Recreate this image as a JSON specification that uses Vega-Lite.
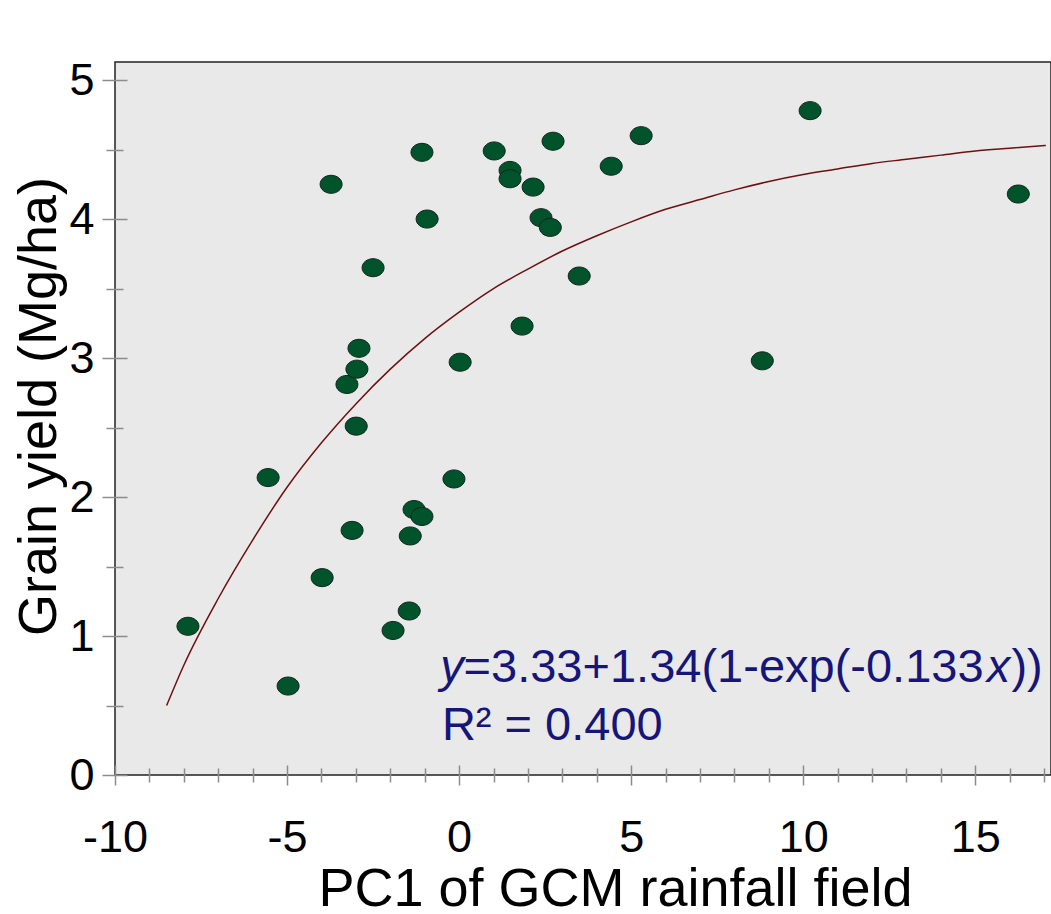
{
  "$schema": "https://vega.github.io/schema/vega-lite/v6.json",
  "width": 936,
  "height": 713,
  "autosize": {"type": "none"},
  "padding": {"left": 115, "top": 62, "right": 0, "bottom": 139},
  "background": "white",
  "config": {
    "view": {"fill": "#e9e9e9", "stroke": "#222222", "strokeWidth": 1.5},
    "font": "Liberation Sans"
  },
  "datasets": {
    "points": [
      {"pc1": -7.88, "yield": 1.07},
      {"pc1": -4.97, "yield": 0.64},
      {"pc1": -5.55, "yield": 2.14},
      {"pc1": -3.98, "yield": 1.42},
      {"pc1": -3.72, "yield": 4.25},
      {"pc1": -3.26, "yield": 2.81},
      {"pc1": -3.11, "yield": 1.76},
      {"pc1": -2.99, "yield": 2.51},
      {"pc1": -2.97, "yield": 2.92},
      {"pc1": -2.91, "yield": 3.07},
      {"pc1": -2.50, "yield": 3.65},
      {"pc1": -1.92, "yield": 1.04},
      {"pc1": -1.45, "yield": 1.18},
      {"pc1": -1.42, "yield": 1.72},
      {"pc1": -1.31, "yield": 1.91},
      {"pc1": -1.08, "yield": 1.86},
      {"pc1": -1.08, "yield": 4.48},
      {"pc1": -0.93, "yield": 4.00},
      {"pc1": -0.15, "yield": 2.13},
      {"pc1": 0.03, "yield": 2.97},
      {"pc1": 1.02, "yield": 4.49},
      {"pc1": 1.48, "yield": 4.35},
      {"pc1": 1.48, "yield": 4.29},
      {"pc1": 1.83, "yield": 3.23},
      {"pc1": 2.15, "yield": 4.23},
      {"pc1": 2.38, "yield": 4.01},
      {"pc1": 2.65, "yield": 3.94},
      {"pc1": 2.73, "yield": 4.56},
      {"pc1": 3.49, "yield": 3.59},
      {"pc1": 4.42, "yield": 4.38},
      {"pc1": 5.29, "yield": 4.60},
      {"pc1": 8.81, "yield": 2.98},
      {"pc1": 10.20, "yield": 4.78},
      {"pc1": 16.25, "yield": 4.18}
    ],
    "fit": [
      {"pc1": -8.5, "yfit": 0.50},
      {"pc1": -8, "yfit": 0.79},
      {"pc1": -7, "yfit": 1.27},
      {"pc1": -6, "yfit": 1.69},
      {"pc1": -5, "yfit": 2.07},
      {"pc1": -4, "yfit": 2.39},
      {"pc1": -3, "yfit": 2.67},
      {"pc1": -2, "yfit": 2.92},
      {"pc1": -1, "yfit": 3.14},
      {"pc1": 0, "yfit": 3.33},
      {"pc1": 1, "yfit": 3.50},
      {"pc1": 2, "yfit": 3.64},
      {"pc1": 3, "yfit": 3.77},
      {"pc1": 4, "yfit": 3.88},
      {"pc1": 5, "yfit": 3.98},
      {"pc1": 6, "yfit": 4.07},
      {"pc1": 7, "yfit": 4.14},
      {"pc1": 8, "yfit": 4.21},
      {"pc1": 9, "yfit": 4.27},
      {"pc1": 10, "yfit": 4.32},
      {"pc1": 11, "yfit": 4.36},
      {"pc1": 12, "yfit": 4.40},
      {"pc1": 13, "yfit": 4.43},
      {"pc1": 14, "yfit": 4.46},
      {"pc1": 15, "yfit": 4.49},
      {"pc1": 16, "yfit": 4.51},
      {"pc1": 17.05, "yfit": 4.53}
    ]
  },
  "resolve": {"axis": {"x": "independent", "y": "independent"}},
  "layer": [
    {
      "data": {"name": "fit"},
      "mark": {"type": "line", "color": "#6e1010", "strokeWidth": 1.5, "interpolate": "monotone"},
      "encoding": {
        "x": {
          "field": "pc1", "type": "quantitative",
          "scale": {"domain": [-10, 17.2], "nice": false, "zero": false},
          "axis": {
            "orient": "bottom",
            "values": [-9, -8, -7, -6, -4, -3, -2, -1, 1, 2, 3, 4, 6, 7, 8, 9, 11, 12, 13, 14, 16, 17],
            "offset": -7, "tickSize": 14, "tickColor": "#8c8c8c", "tickWidth": 1.5,
            "labels": false, "domain": false, "grid": false, "title": null
          }
        },
        "y": {
          "field": "yfit", "type": "quantitative",
          "scale": {"domain": [0, 5.13], "nice": false, "zero": false},
          "axis": {
            "orient": "left",
            "values": [0.5, 1.5, 2.5, 3.5, 4.5],
            "offset": -8, "tickSize": 17, "tickColor": "#8c8c8c", "tickWidth": 1.5,
            "labels": false, "domain": false, "grid": false, "title": null
          }
        }
      }
    },
    {
      "data": {"name": "points"},
      "mark": {
        "type": "point",
        "shape": "M -1 0 C -1 -0.453 -0.552 -0.82 0 -0.82 C 0.552 -0.82 1 -0.453 1 0 C 1 0.453 0.552 0.82 0 0.82 C -0.552 0.82 -1 0.453 -1 0 Z",
        "size": 484,
        "filled": true,
        "fill": "#00532b",
        "stroke": "#10241a",
        "strokeWidth": 1,
        "opacity": 1,
        "fillOpacity": 1
      },
      "encoding": {
        "x": {
          "field": "pc1", "type": "quantitative",
          "axis": {
            "orient": "bottom",
            "values": [-10, -5, 0, 5, 10, 15],
            "offset": -10, "tickSize": 20, "tickColor": "#8c8c8c", "tickWidth": 1.5,
            "domain": false, "grid": false,
            "labelExpr": "datum.value < 0 ? '-' + abs(datum.value) : '' + datum.value",
            "labelFont": "Liberation Sans", "labelFontSize": 45, "labelColor": "black",
            "labelPadding": 30, "labelFlush": false, "labelOverlap": false,
            "title": "PC1 of GCM rainfall field",
            "titleFont": "Liberation Sans", "titleFontSize": 54, "titleFontWeight": "normal",
            "titleColor": "black", "titlePadding": 2, "titleX": 500
          }
        },
        "y": {
          "field": "yield", "type": "quantitative",
          "axis": {
            "orient": "left",
            "values": [0, 1, 2, 3, 4, 5],
            "offset": -12, "tickSize": 25, "tickColor": "#8c8c8c", "tickWidth": 1.5,
            "domain": false, "grid": false,
            "labelFont": "Liberation Sans", "labelFontSize": 45, "labelColor": "black",
            "labelPadding": 8, "labelFlush": false, "labelOverlap": false,
            "title": "Grain yield (Mg/ha)",
            "titleFont": "Liberation Sans", "titleFontSize": 54, "titleFontWeight": "normal",
            "titleColor": "black", "titlePadding": 2, "titleY": 344
          }
        }
      }
    },
    {
      "data": {"values": [{}]},
      "mark": {"type": "text", "text": "y", "font": "Liberation Sans", "fontStyle": "italic", "fontSize": 47, "color": "#16167a", "align": "left", "baseline": "alphabetic"},
      "encoding": {
        "x": {"datum": -0.55, "type": "quantitative", "axis": null},
        "y": {"datum": 0.669, "type": "quantitative", "axis": null}
      }
    },
    {
      "data": {"values": [{}]},
      "mark": {"type": "text", "text": "=3.33+1.34(1-exp(-0.133", "font": "Liberation Sans", "fontSize": 47, "color": "#16167a", "align": "left", "baseline": "alphabetic"},
      "encoding": {
        "x": {"datum": 0.13, "type": "quantitative", "axis": null},
        "y": {"datum": 0.669, "type": "quantitative", "axis": null}
      }
    },
    {
      "data": {"values": [{}]},
      "mark": {"type": "text", "text": "x", "font": "Liberation Sans", "fontStyle": "italic", "fontSize": 47, "color": "#16167a", "align": "left", "baseline": "alphabetic"},
      "encoding": {
        "x": {"datum": 15.33, "type": "quantitative", "axis": null},
        "y": {"datum": 0.669, "type": "quantitative", "axis": null}
      }
    },
    {
      "data": {"values": [{}]},
      "mark": {"type": "text", "text": "))", "font": "Liberation Sans", "fontSize": 47, "color": "#16167a", "align": "left", "baseline": "alphabetic"},
      "encoding": {
        "x": {"datum": 16.05, "type": "quantitative", "axis": null},
        "y": {"datum": 0.669, "type": "quantitative", "axis": null}
      }
    },
    {
      "data": {"values": [{}]},
      "mark": {"type": "text", "text": "R² = 0.400", "font": "Liberation Sans", "fontSize": 47, "color": "#16167a", "align": "left", "baseline": "alphabetic"},
      "encoding": {
        "x": {"datum": -0.5, "type": "quantitative", "axis": null},
        "y": {"datum": 0.252, "type": "quantitative", "axis": null}
      }
    }
  ]
}
